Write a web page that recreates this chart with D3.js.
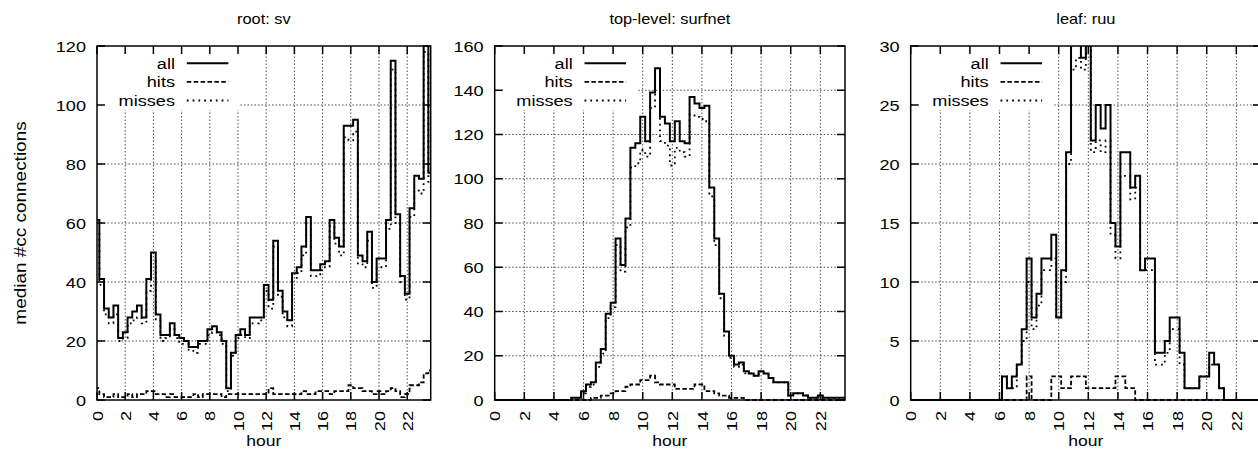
<!DOCTYPE html>
<html><head><meta charset="utf-8">
<script src="https://cdn.jsdelivr.net/npm/d3@7"></script>
<style>
body{margin:0;background:#fff}
text{font-family:"Liberation Sans",Arial,Helvetica,sans-serif;fill:#000}
</style>
</head><body>
<svg id="chart" width="1258" height="450"></svg>
<script>
// 20-minute bins, centred on k/3 hours
const binHours = d3.range(72).map(k => k / 3);
const hourTicks = d3.range(0, 24, 2);
const seriesNames = ["all", "hits", "misses"];

// root: sv
const rootAll = [61,41,31,28,32,21,23,28,30,32,28,41,50,29,22,22,26,22,21,20,18,18,20,20,
  24,25,23,20,4,16,22,24,22,28,28,28,39,34,54,37,30,27,43,45,52,62,44,44,
  46,47,61,55,52,93,93,95,49,47,57,40,48,48,61,115,63,42,36,65,76,75,125,77];
const rootHits = [4,2,1,1,2,1,1,2,1,2,2,3,3,2,2,1,2,1,1,1,1,2,1,2,
  2,2,2,1,2,2,2,2,2,2,2,2,2,4,2,2,2,2,2,2,3,2,2,3,
  3,3,2,3,3,3,5,4,4,3,3,2,3,2,3,4,3,1,2,5,5,6,9,10];
const rootMisses = [57,39,29,26,29,20,21,26,27,28,26,37,47,27,20,21,24,21,19,19,17,16,19,19,
  22,23,22,19,3,15,21,22,21,26,26,27,37,31,52,35,28,25,41,43,49,60,42,42,
  44,45,59,53,49,89,88,91,46,45,54,38,45,45,58,112,60,40,34,62,71,70,118,73];

// top-level: surfnet
const surfAll = [0,0,0,0,0,0,0,0,0,0,0,0,0,0,0,0,1,1,4,7,8,17,23,39,
  44,73,61,82,114,116,128,117,139,150,128,125,117,126,117,116,137,134,132,133,96,73,48,31,
  20,16,17,13,12,11,13,12,10,8,8,8,2,3,3,2,1,1,2,1,1,1,1,1];
const surfHits = [0,0,0,0,0,0,0,0,0,0,0,0,0,0,0,0,0,0,0,0,1,1,2,2,
  3,4,4,6,7,7,9,9,11,8,7,7,7,5,5,5,5,7,7,4,4,3,2,2,
  1,1,1,0,0,0,0,0,0,0,0,0,0,0,0,0,0,0,0,0,0,0,0,0];
const surfMisses = [0,0,0,0,0,0,0,0,0,0,0,0,0,0,0,0,1,1,3,6,7,15,21,37,
  42,70,58,78,105,107,113,110,132,138,117,115,106,114,112,110,129,128,127,126,92,70,46,29,
  19,15,16,12,12,11,12,12,10,8,8,8,2,3,3,2,1,1,1,1,1,1,1,1];

// leaf: ruu
const ruuAll = [0,0,0,0,0,0,0,0,0,0,0,0,0,0,0,0,0,0,0,2,1,2,3,6,
  12,7,9,12,12,14,7,11,21,32,32,29,32,22,25,23,25,15,13,21,21,18,19,11,
  12,12,4,4,5,7,7,4,1,1,1,2,2,4,3,1,0,0,0,0,0,0,0,0];
const ruuHits = [0,0,0,0,0,0,0,0,0,0,0,0,0,0,0,0,0,0,0,0,0,0,0,0,
  2,0,0,0,0,2,2,1,1,2,2,2,1,1,1,1,1,1,2,2,1,1,0,0,
  0,0,0,0,0,0,0,0,0,0,0,0,0,0,0,0,0,0,0,0,0,0,0,0];
const ruuMisses = [0,0,0,0,0,0,0,0,0,0,0,0,0,0,0,0,0,0,0,2,1,1,3,5,
  10,6,8,11,11,12,7,10,20,28,29,28,30,21,22,21,22,14,12,19,19,17,18,11,
  11,11,3,3,4,6,6,3,1,1,1,2,2,3,3,1,0,0,0,0,0,0,0,0];

const panels = [
  {title: "root: sv",           yMax: 120, yStep: 20, data: [rootAll, rootHits, rootMisses], left: 97,    right: 430.7},
  {title: "top-level: surfnet", yMax: 160, yStep: 20, data: [surfAll, surfHits, surfMisses], left: 494.7, right: 845},
  {title: "leaf: ruu",          yMax: 30,  yStep: 5,  data: [ruuAll, ruuHits, ruuMisses],    left: 910.7, right: 1261}
];

const TOP = 46, BOTTOM = 400, TICK = 8;
const FS = 15.5, STRETCH = 1.17;   // the face is set slightly wide
const lineStyle = {
  all:    {width: 2,   dash: null},
  hits:   {width: 1.8, dash: "4.5,2.4"},
  misses: {width: 1.8, dash: "1.8,4"}
};

const svg = d3.select("#chart");
const binHalf = (binHours[1] - binHours[0]) / 2;

// text widened along its reading direction
function label(parent, x, y, str, anchor, angle, size) {
  return parent.append("text")
    .attr("transform", `translate(${x},${y}) rotate(${angle || 0}) scale(${STRETCH},1)`)
    .attr("dy", "0.36em").attr("text-anchor", anchor).attr("font-size", size || FS).text(str);
}

panels.forEach((p, pi) => {
  const x = d3.scaleLinear().domain([0, binHours[binHours.length - 1]]).range([p.left, p.right]);
  const y = d3.scaleLinear().domain([0, p.yMax]).range([BOTTOM, TOP]);
  const yTicks = d3.range(0, p.yMax + 0.001, p.yStep);
  const g = svg.append("g");

  const clipId = "clip" + pi;
  g.append("clipPath").attr("id", clipId).append("rect")
    .attr("x", p.left).attr("y", TOP).attr("width", p.right - p.left).attr("height", BOTTOM - TOP + 1.5);

  // grid
  const grid = g.append("g").attr("stroke", "#000").attr("stroke-width", 1)
    .attr("stroke-dasharray", "1.5,2").attr("opacity", 0.7);
  hourTicks.filter(h => h > 0).forEach(h => {
    grid.append("line").attr("x1", x(h)).attr("x2", x(h)).attr("y1", TOP).attr("y2", BOTTOM);
  });
  yTicks.filter(v => v > 0 && v < p.yMax).forEach(v => {
    grid.append("line").attr("x1", p.left).attr("x2", p.right).attr("y1", y(v)).attr("y2", y(v));
  });

  // key background
  g.append("rect").attr("x", p.left + 1).attr("y", TOP + 1)
    .attr("width", 142).attr("height", 63).attr("fill", "#fff");

  // series as centred steps over each bin
  const line = d3.line().x(d => x(d[0])).y(d => y(d[1]));
  [2, 1, 0].forEach(si => {
    const vals = p.data[si];
    const pts = [];
    vals.forEach((v, k) => {
      pts.push([binHours[k] - binHalf, v]);
      pts.push([binHours[k] + binHalf, v]);
    });
    const st = lineStyle[seriesNames[si]];
    g.append("path").attr("clip-path", `url(#${clipId})`)
      .attr("d", line(pts)).attr("fill", "none").attr("stroke", "#000")
      .attr("stroke-width", st.width).attr("stroke-dasharray", st.dash)
      .attr("stroke-linejoin", "miter").attr("stroke-linecap", "butt");
  });

  // frame and ticks
  g.append("rect").attr("x", p.left).attr("y", TOP).attr("width", p.right - p.left)
    .attr("height", BOTTOM - TOP).attr("fill", "none").attr("stroke", "#000").attr("stroke-width", 1.5);
  const ticks = g.append("g").attr("stroke", "#000").attr("stroke-width", 1.5);
  hourTicks.forEach(h => {
    ticks.append("line").attr("x1", x(h)).attr("x2", x(h)).attr("y1", BOTTOM).attr("y2", BOTTOM - TICK);
    ticks.append("line").attr("x1", x(h)).attr("x2", x(h)).attr("y1", TOP).attr("y2", TOP + TICK);
  });
  yTicks.forEach(v => {
    ticks.append("line").attr("x1", p.left).attr("x2", p.left + TICK).attr("y1", y(v)).attr("y2", y(v));
    ticks.append("line").attr("x1", p.right).attr("x2", p.right - TICK).attr("y1", y(v)).attr("y2", y(v));
  });

  // tick labels
  yTicks.forEach(v => label(g, p.left - 11, y(v), d3.format("d")(v), "end", 0));
  hourTicks.forEach(h => label(g, x(h), 411, h, "end", -90));

  // titles
  const cx = (p.left + p.right) / 2;
  label(g, cx, 19, p.title, "middle", 0, 14);
  label(g, cx, 441, "hour", "middle", 0, 15);

  // key
  seriesNames.forEach((name, i) => {
    const ky = 63.3 + i * 18.6;
    const x1 = p.left + 89.8, x2 = p.left + 131.4;
    label(g, p.left + 78, ky, name, "end", 0);
    const st = lineStyle[name];
    g.append("line").attr("x1", x1).attr("x2", x2).attr("y1", ky).attr("y2", ky)
      .attr("stroke", "#000").attr("stroke-width", st.width).attr("stroke-dasharray", st.dash);
  });
});

label(svg, 20, 223, "median #cc connections", "middle", -90, 16.2);
</script>
</body></html>
